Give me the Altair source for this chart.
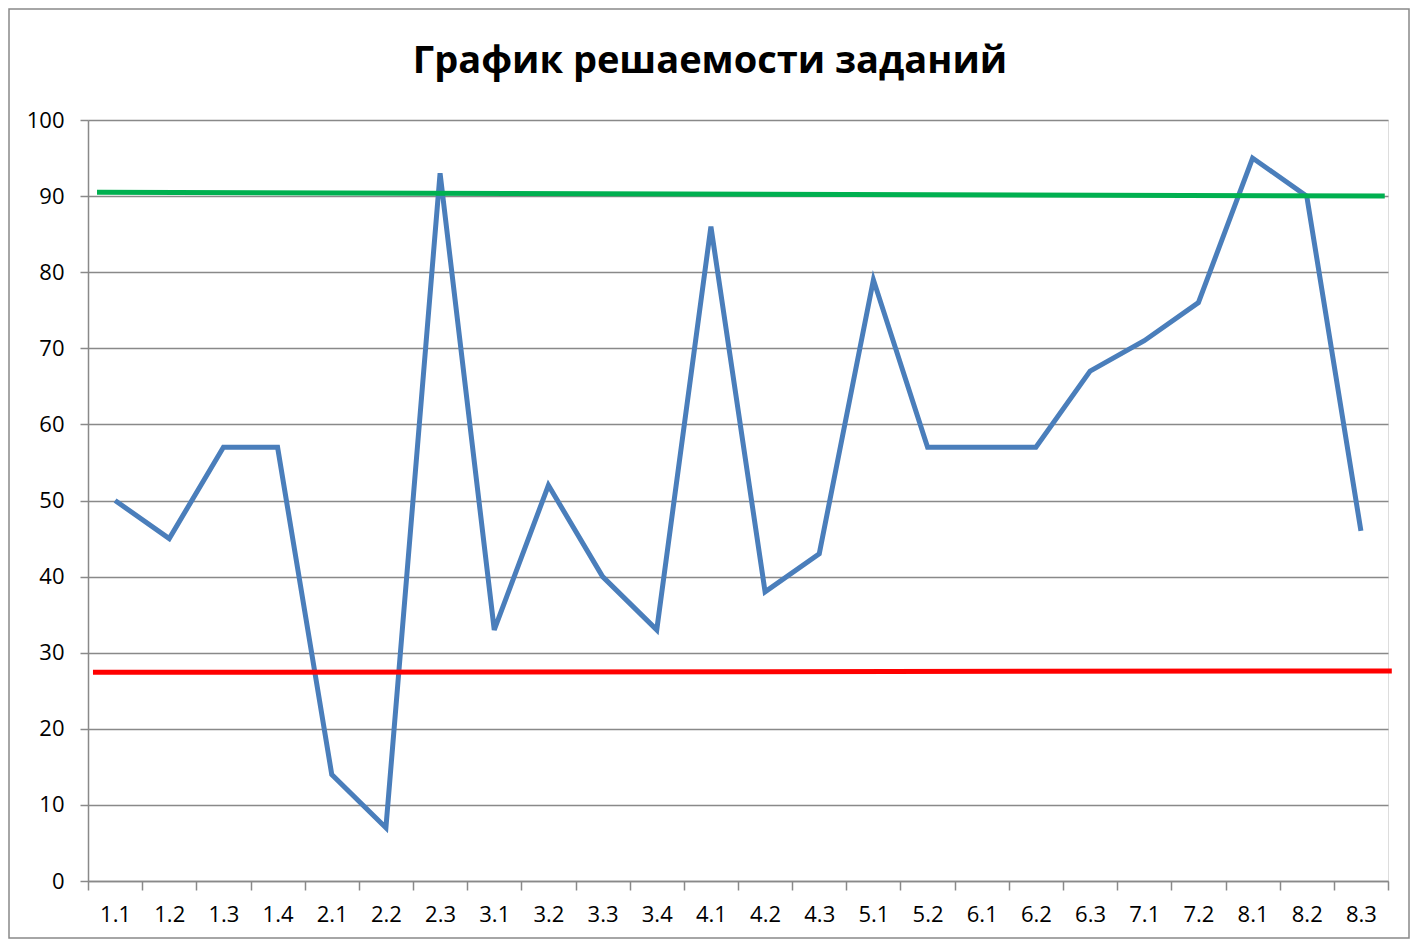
import altair as alt
import pandas as pd

title_text = ["График решаемости заданий"]
categories = ["1.1", "1.2", "1.3", "1.4", "2.1", "2.2", "2.3", "3.1", "3.2", "3.3", "3.4",
              "4.1", "4.2", "4.3", "5.1", "5.2", "6.1", "6.2", "6.3", "7.1", "7.2",
              "8.1", "8.2", "8.3"]
values = [50, 45, 57, 57, 14, 7, 93, 33, 52, 40, 33, 86, 38, 43, 79, 57, 57, 57, 67, 71, 76,
          95, 90, 46]

# hand-drawn reference lines (x in category units, 0 = left edge, 24 = right edge)
green_x = [0.166, 23.94]
green_y = [90.5, 90.0]
red_x = [0.092, 24.07]
red_y = [27.42, 27.6]

W, H = 1300, 761
FONT = "Open Sans"
GRAY = "#898989"

df = pd.DataFrame({"cat": categories, "val": values})
ref = pd.DataFrame({
    "x": green_x + red_x,
    "y": green_y + red_y,
    "line": ["green", "green", "red", "red"],
})

yscale = alt.Scale(domain=[0, 100], nice=False)

main = alt.Chart(df).mark_line(color="#4A7EBB", strokeWidth=5, strokeJoin="miter", clip=False).encode(
    x=alt.X("cat:N", sort=categories, bandPosition=0.5,
            scale=alt.Scale(type="band", paddingInner=0, paddingOuter=0),
            axis=alt.Axis(title=None, labelAngle=0, tickBand="extent", ticks=True, tickSize=9,
                          tickColor=GRAY, tickWidth=1.5, domainColor=GRAY, domainWidth=1.5,
                          labelFont=FONT, labelFontSize=22, labelColor="#000000",
                          labelPadding=14, grid=False)),
    y=alt.Y("val:Q", scale=yscale,
            axis=alt.Axis(title=None, values=list(range(0, 101, 10)), tickSize=8,
                          tickColor=GRAY, tickWidth=1.5, domainColor=GRAY, domainWidth=1.5,
                          gridColor=GRAY, gridWidth=1.5, grid=True,
                          labelFont=FONT, labelFontSize=22, labelColor="#000000",
                          labelPadding=16)),
)

refs = alt.Chart(ref).mark_line(strokeWidth=5, clip=False).encode(
    x=alt.X("x:Q", scale=alt.Scale(domain=[0, 24], nice=False, zero=False), axis=None),
    y=alt.Y("y:Q", scale=yscale),
    detail="line:N",
    color=alt.Color("line:N", scale=alt.Scale(domain=["green", "red"], range=["#00B050", "#FF0000"]),
                    legend=None),
)

border = alt.Chart(pd.DataFrame({"a": [0]})).mark_rect(
    filled=False, stroke=GRAY, strokeWidth=1.5, clip=False
).encode(
    x=alt.value(-79), x2=alt.value(W + 21), y=alt.value(-111), y2=alt.value(H + 57)
)

title = alt.Chart(pd.DataFrame({"t": title_text})).mark_text(
    font=FONT, fontSize=38, fontWeight="bold", color="#000000",
    align="center", baseline="alphabetic", clip=False
).encode(
    text="t:N", x=alt.value(W / 2 - 28), y=alt.value(-47)
)

chart = alt.layer(border, title, main, refs).resolve_scale(x="independent").properties(
    width=W, height=H,
    autosize=alt.AutoSizeParams(type="none"),
    padding={"left": 80, "top": 112, "right": 22, "bottom": 58},
).configure_view(strokeWidth=0).configure(background="white")

chart.save("out.html", embed_options={"renderer": "svg", "actions": False})
